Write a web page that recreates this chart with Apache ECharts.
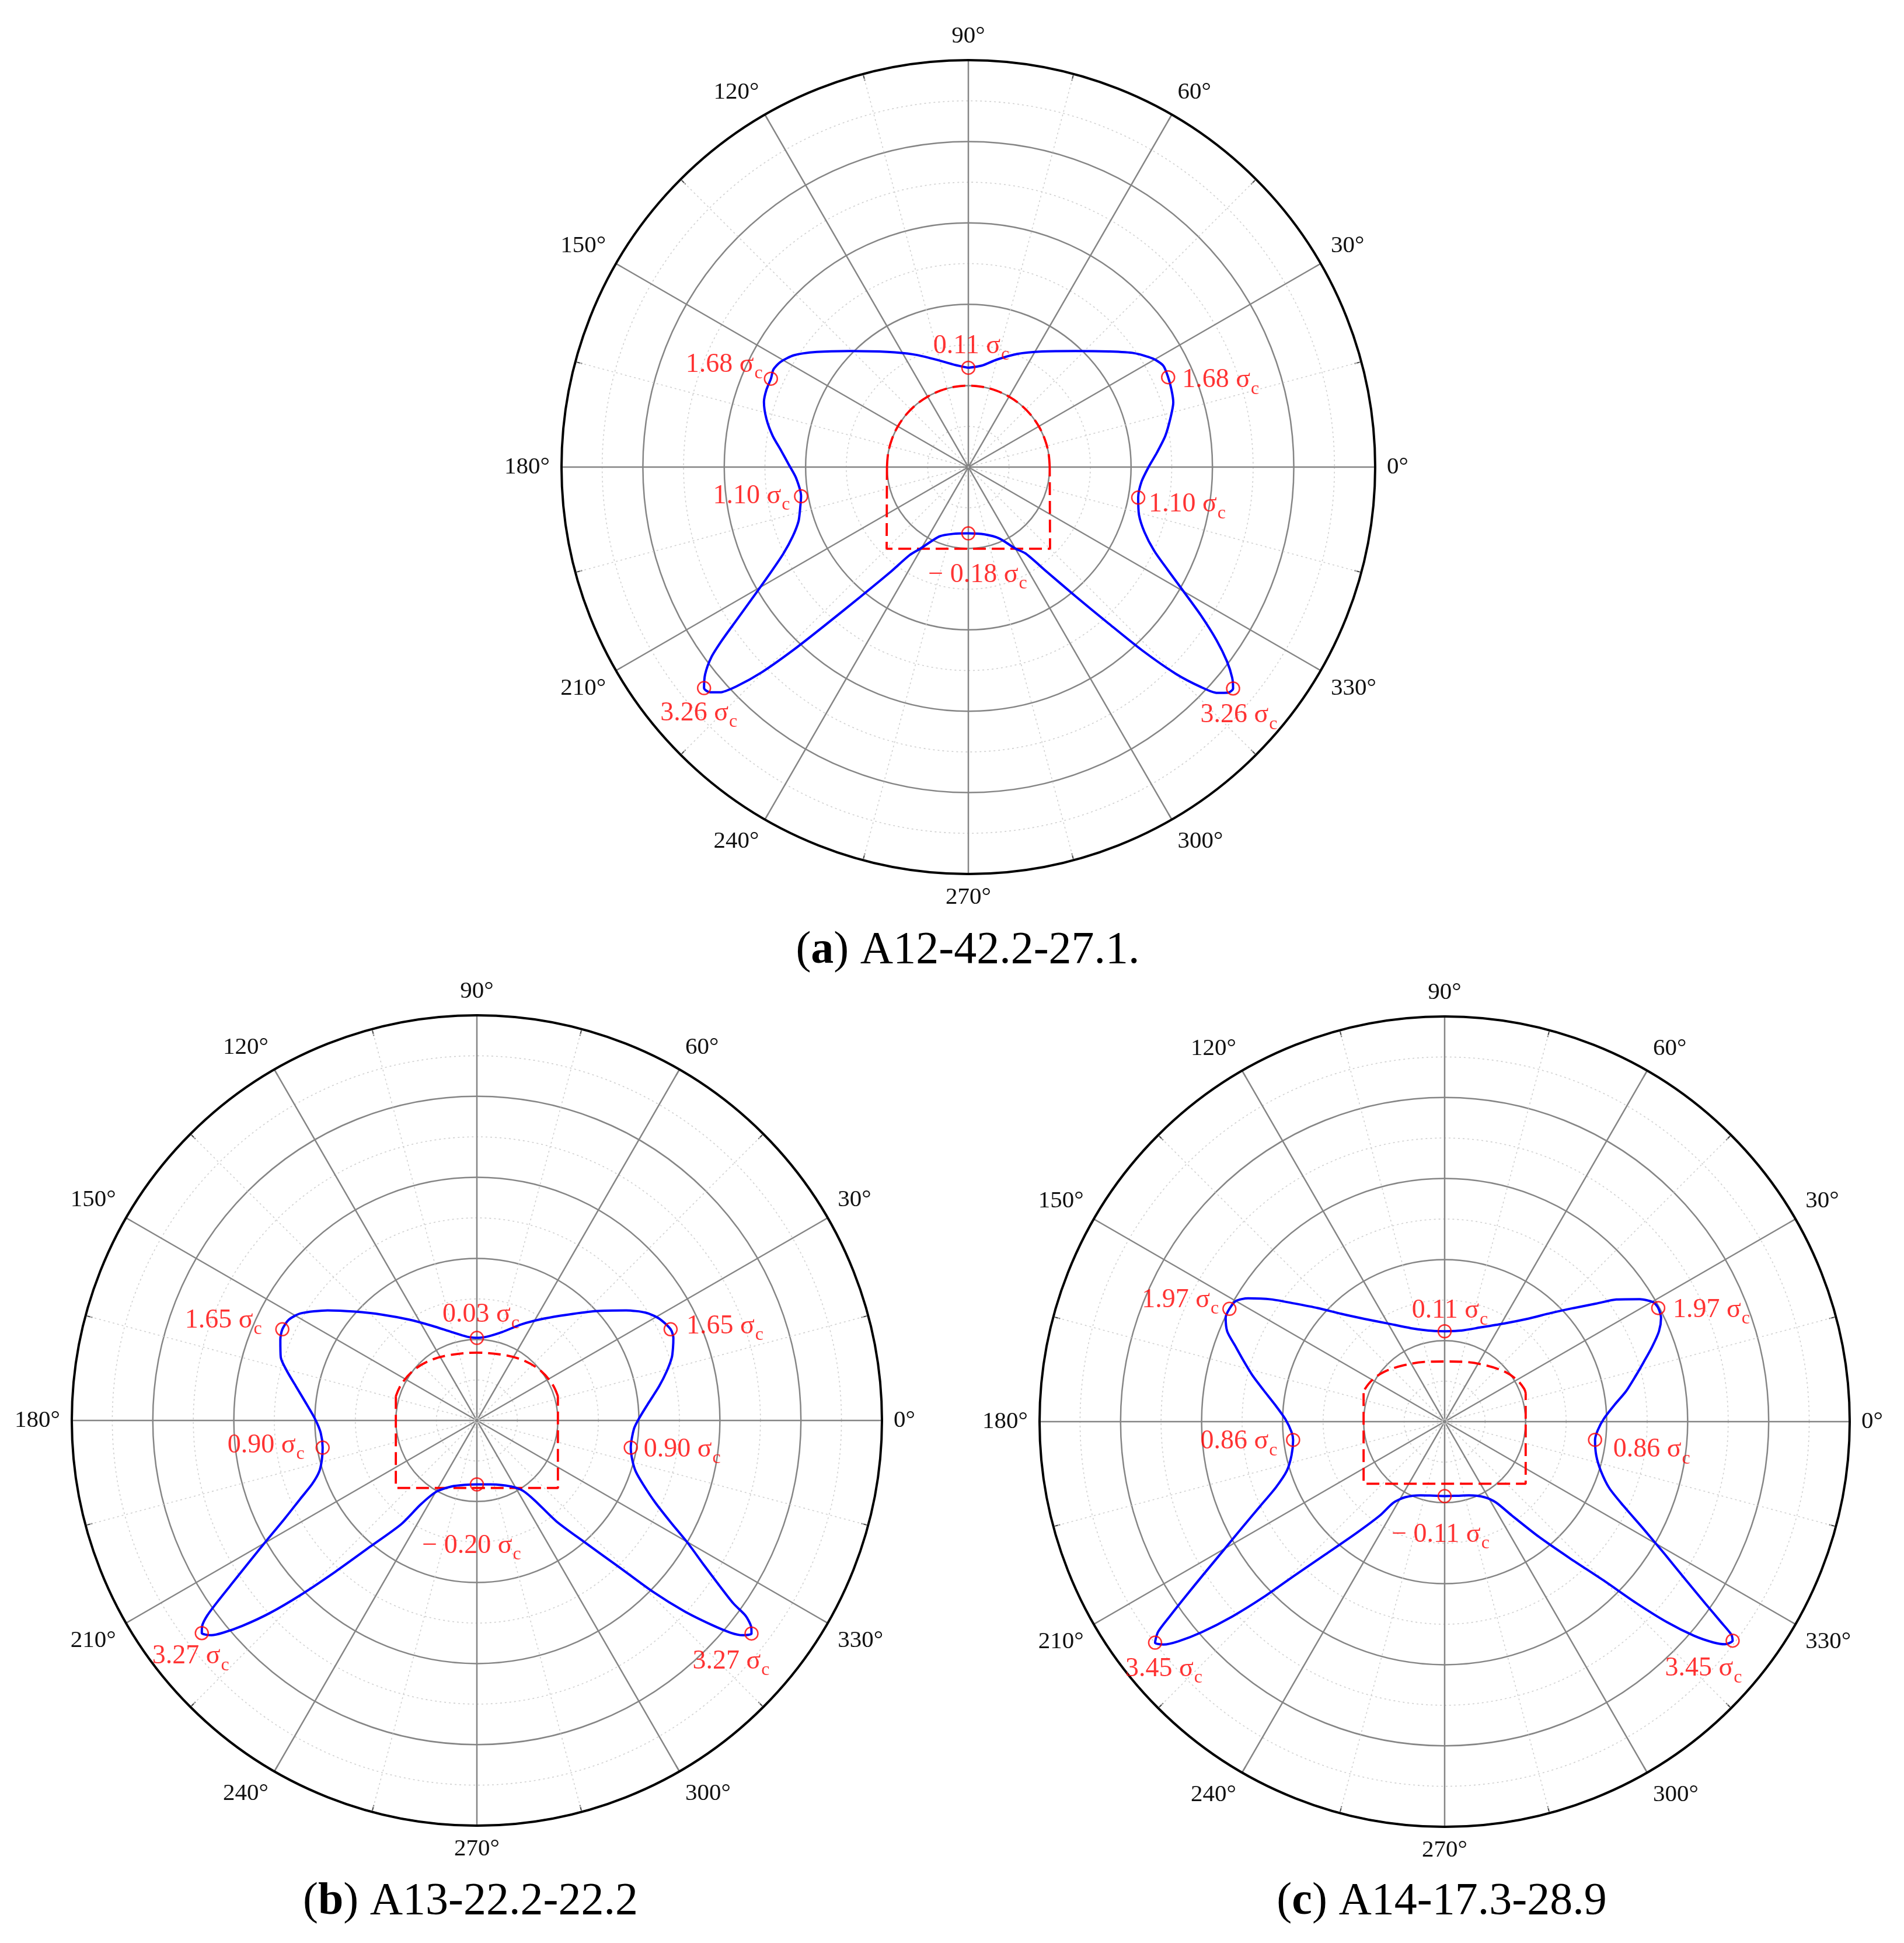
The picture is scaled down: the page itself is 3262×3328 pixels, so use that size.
<!DOCTYPE html>
<html>
<head>
<meta charset="utf-8">
<script src="https://cdn.jsdelivr.net/npm/echarts@6/dist/echarts.min.js"></script>
<style>
html,body{margin:0;padding:0;background:#ffffff;}
#chart{width:3262px;height:3328px;}
</style>
</head>
<body>
<div id="chart"></div>
<script>
// ---------------- DATA (radius in grid-ring units, angle in degrees) ----------------
const angleTicks = [0, 30, 60, 90, 120, 150, 180, 210, 240, 270, 300, 330];
const titles = ['(a) A12-42.2-27.1.', '(b) A13-22.2-22.2', '(c) A14-17.3-28.9'];

// (a) stress curve
const curveA_deg = [90, 82.5, 75.4, 66.65, 57.4, 47.25, 39.4, 34.5, 30.45, 27.5, 24.2, 20.8, 17.5, 13.9, 9.0, 4.4, 0, 355.2, 349.8, 344.3, 339.8, 335.8, 332.8, 329.9, 327.5, 325.1, 323.1, 321.4, 320.1, 319.0, 317.8, 316.6, 315.1, 313.5, 311.9, 309.7, 306.8, 303.5, 299.9, 293.5, 283.5, 270, 257.3, 247.5, 239.5, 236.3, 233.3, 230.2, 227.9, 226.3, 224.8, 223.4, 222.2, 221.1, 219.9, 218.2, 216.5, 215.1, 213.4, 211.1, 208.2, 205.05, 201.6, 197.7, 193.9, 189.9, 183.6, 179.3, 174.9, 170.9, 166.6, 162.3, 159.1, 155.9, 153.4, 150.75, 147.35, 142.8, 135.5, 125.0, 116.2, 107.8, 97.7, 90];
const curveA_r = [1.22, 1.257, 1.362, 1.514, 1.686, 1.942, 2.237, 2.471, 2.630, 2.700, 2.692, 2.671, 2.641, 2.562, 2.451, 2.325, 2.215, 2.136, 2.121, 2.179, 2.305, 2.502, 2.750, 3.065, 3.387, 3.720, 3.974, 4.149, 4.241, 4.227, 4.131, 3.932, 3.597, 3.108, 2.585, 2.065, 1.601, 1.273, 1.153, 0.957, 0.850, 0.815, 0.841, 0.921, 1.163, 1.30, 1.62, 2.08, 2.60, 3.10, 3.58, 3.92, 4.12, 4.21, 4.234, 4.116, 3.930, 3.699, 3.409, 3.085, 2.765, 2.508, 2.323, 2.191, 2.130, 2.087, 2.122, 2.205, 2.312, 2.436, 2.551, 2.637, 2.657, 2.658, 2.679, 2.645, 2.546, 2.339, 2.034, 1.727, 1.544, 1.395, 1.268, 1.22];
// (a) opening outline: arch and straight part
const archA_deg = [0, 10, 20, 30, 40, 50, 60, 70, 80, 90, 100, 110, 120, 130, 140, 150, 160, 170, 180];
const archA_r = [1, 1, 1, 1, 1, 1, 1, 1, 1, 1, 1, 1, 1, 1, 1, 1, 1, 1, 1];
const boxA_deg = [180, 225, 315, 360];
const boxA_r = [1, 1.42, 1.42, 1];
// (a) marked points
const markA_deg = [90, 24.2, 349.8, 320.1, 270, 219.9, 189.9, 155.9];
const markA_r = [1.22, 2.692, 2.121, 4.241, 0.815, 4.234, 2.087, 2.658];
const markA_val = [0.11, 1.68, 1.10, 3.26, -0.18, 3.26, 1.10, 1.68];

// (b) stress curve
const curveB_deg = [90, 83.4, 74.1, 65.1, 56.4, 49.3, 42.75, 36.4, 32.6, 29.2, 25.2, 22.8, 20.4, 17.95, 14.6, 10.6, 6.2, 1.1, 356.9, 350.0, 345.7, 342.15, 338.8, 335.3, 332.3, 329.8, 327.55, 325.8, 324.5, 324.0, 323.15, 322.2, 321.05, 320.1, 318.95, 317.4, 315.8, 314.1, 311.4, 308.25, 305.95, 303.4, 298.95, 291.3, 282.0, 270, 259.7, 249.1, 240.3, 236.2, 233.9, 229.8, 226.9, 224.7, 222.9, 221.2, 219.9, 218.95, 217.7, 216.8, 215.85, 214.8, 213.4, 211.75, 209.6, 207.0, 203.9, 201.1, 198.0, 194.3, 190.0, 184.5, 179.6, 174.4, 169.3, 165.4, 162.1, 157.7, 154.9, 151.8, 148.75, 143.6, 138.3, 131.9, 123.9, 115.2, 105.9, 96.6, 90];
const curveB_r = [1.019, 1.040, 1.134, 1.308, 1.511, 1.723, 1.987, 2.289, 2.470, 2.577, 2.643, 2.631, 2.583, 2.530, 2.423, 2.288, 2.141, 2.010, 1.941, 1.929, 1.980, 2.061, 2.207, 2.423, 2.701, 3.017, 3.317, 3.614, 3.890, 4.100, 4.228, 4.290, 4.215, 4.083, 3.839, 3.478, 3.035, 2.511, 1.990, 1.584, 1.223, 1.043, 0.940, 0.857, 0.807, 0.789, 0.807, 0.871, 1.013, 1.249, 1.582, 2.037, 2.556, 3.062, 3.494, 3.849, 4.083, 4.215, 4.291, 4.235, 4.102, 3.875, 3.581, 3.292, 2.972, 2.658, 2.382, 2.180, 2.047, 1.975, 1.933, 1.934, 1.995, 2.115, 2.273, 2.423, 2.544, 2.622, 2.652, 2.633, 2.546, 2.289, 2.019, 1.755, 1.499, 1.290, 1.134, 1.040, 1.019];
const archB_deg = [16.7, 25.5, 37.8, 50.75, 65.9, 90, 114.1, 129.25, 142.2, 154.5, 163.3];
const archB_r = [1.044, 1.034, 0.999, 0.945, 0.880, 0.837, 0.880, 0.945, 0.999, 1.034, 1.044];
const boxB_deg = [163.3, 219.8, 320.2, 16.7];
const boxB_r = [1.044, 1.302, 1.302, 1.044];
const markB_deg = [90, 25.2, 350.0, 322.2, 270, 217.7, 190.0, 154.9];
const markB_r = [1.019, 2.643, 1.929, 4.290, 0.789, 4.291, 1.933, 2.652];
const markB_val = [0.03, 1.65, 0.90, 3.27, -0.20, 3.27, 0.90, 1.65];

// (c) stress curve
const curveC_deg = [90, 79.6, 69.1, 58.85, 51.2, 45.7, 41.35, 37.8, 35.4, 32.1, 29.8, 28.0, 25.6, 22.85, 19.8, 16.6, 13.5, 9.5, 5.6, 1.1, 356.8, 353.1, 347.45, 342.5, 338.0, 334.8, 331.65, 328.95, 326.7, 325.1, 324.05, 323.4, 322.75, 321.55, 320.6, 319.35, 317.95, 316.55, 315.1, 312.5, 309.3, 305.6, 302.5, 297.85, 288.3, 279.8, 270, 261.0, 251.9, 242.4, 237.7, 235.4, 231.65, 228.1, 225.7, 224.1, 222.55, 220.9, 219.5, 218.4, 217.35, 216.25, 215.3, 213.95, 212.3, 210.2, 207.55, 204.55, 201.25, 197.3, 192.4, 186.9, 183.9, 179.3, 174.4, 170.15, 166.6, 163.1, 160.3, 157.45, 154.6, 152.35, 150.0, 147.9, 144.8, 141.8, 138.15, 133.85, 128.0, 120.1, 109.85, 100.1, 90];
const curveC_r = [1.115, 1.143, 1.245, 1.415, 1.627, 1.871, 2.122, 2.380, 2.601, 2.843, 2.966, 2.986, 2.962, 2.871, 2.721, 2.562, 2.426, 2.270, 2.106, 1.967, 1.893, 1.870, 1.917, 2.022, 2.193, 2.438, 2.790, 3.172, 3.566, 3.925, 4.214, 4.409, 4.466, 4.417, 4.293, 4.055, 3.693, 3.249, 2.791, 2.285, 1.836, 1.424, 1.185, 1.055, 0.958, 0.928, 0.919, 0.925, 0.956, 1.053, 1.183, 1.407, 1.751, 2.199, 2.653, 3.110, 3.552, 3.969, 4.262, 4.427, 4.496, 4.385, 4.157, 3.847, 3.514, 3.160, 2.812, 2.499, 2.233, 2.040, 1.935, 1.884, 1.894, 1.962, 2.101, 2.268, 2.434, 2.596, 2.739, 2.906, 2.992, 2.999, 2.977, 2.864, 2.617, 2.358, 2.101, 1.845, 1.609, 1.400, 1.226, 1.142, 1.115];
const archC_deg = [19.3, 22.5, 29.8, 39.2, 53.6, 71.3, 90, 108.7, 126.4, 140.8, 150.2, 157.5, 160.7];
const archC_r = [1.060, 1.062, 1.031, 0.969, 0.862, 0.778, 0.742, 0.778, 0.862, 0.969, 1.031, 1.062, 1.060];
const boxC_deg = [160.7, 217.45, 322.55, 19.3];
const boxC_r = [1.060, 1.260, 1.260, 1.060];
const markC_deg = [90, 28.0, 353.1, 322.75, 270, 217.35, 186.9, 152.35];
const markC_r = [1.115, 2.986, 1.870, 4.466, 0.919, 4.496, 1.884, 2.999];
const markC_val = [0.11, 1.97, 0.86, 3.45, -0.11, 3.45, 0.86, 1.97];

// ---------------- LAYOUT / STYLE ----------------
const FONT = "'Liberation Serif', 'Times New Roman', serif";
const panels = [
  {center: [1659, 800], radius: 697, titleX: 1658, titleY: 1590,
   curve: [curveA_r, curveA_deg], arch: [archA_r, archA_deg], box: [boxA_r, boxA_deg],
   mark: [markA_r, markA_deg], vals: markA_val,
   lab: [['center', 5, -37], ['left', 24, 5], ['left', 18, 12], ['center', 10, 46], ['center', 16, 71], ['center', -9, 43], ['right', -19, 0], ['right', -14, -24]]},
  {center: [817, 2433], radius: 694, titleX: 806, titleY: 3219,
   curve: [curveB_r, curveB_deg], arch: [archB_r, archB_deg], box: [boxB_r, boxB_deg],
   mark: [markB_r, markB_deg], vals: markB_val,
   lab: [['center', 7, -40], ['left', 27, -5], ['left', 22, 3], ['center', -35, 48], ['center', -9, 105], ['center', -19, 40], ['right', -31, -4], ['right', -35, -15]]},
  {center: [2475, 2435], radius: 694, titleX: 2470, titleY: 3219,
   curve: [curveC_r, curveC_deg], arch: [archC_r, archC_deg], box: [boxC_r, boxC_deg],
   mark: [markC_r, markC_deg], vals: markC_val,
   lab: [['center', 9, -35], ['left', 25, 3], ['left', 31, 17], ['center', -50, 48], ['center', -7, 66], ['center', 15, 45], ['right', -27, 3], ['right', -18, -15]]}
];

function zip(rs, ds) { const n = Math.min(rs.length, ds.length); const out = []; for (let i = 0; i < n; i++) out.push([rs[i], ds[i]]); return out; }
function fmtVal(v) { return (v < 0 ? '\u2212 ' : '') + Math.abs(v).toFixed(2); }

const gridGray = '#858585';
const minorGray = '#d0d0d0';

const option = {
  backgroundColor: '#ffffff',
  animation: false,
  title: panels.map((p, i) => ({
    text: titles[i].replace(/^\((.)\)/, '({b|$1})'),
    left: p.titleX, top: p.titleY, textAlign: 'center', padding: 0,
    textStyle: {fontFamily: FONT, fontSize: 78, fontWeight: 'normal', color: '#000',
      rich: {b: {fontFamily: FONT, fontSize: 78, fontWeight: 'bold', color: '#000'}}}
  })),
  polar: panels.map(p => ({center: p.center, radius: p.radius})),
  angleAxis: panels.map((p, i) => ({
    polarIndex: i, type: 'value', min: 0, max: 360, interval: 30, startAngle: 0, clockwise: false,
    axisLine: {show: true, lineStyle: {color: '#000', width: 4}},
    axisTick: {show: true, inside: true, length: 12, lineStyle: {color: '#444', width: 2}},
    minorTick: {show: true, splitNumber: 2, length: 12, lineStyle: {color: '#444', width: 2}},
    axisLabel: {show: true, margin: 20, fontFamily: FONT, fontSize: 41, color: '#111',
      formatter: v => (angleTicks.indexOf(v) >= 0 ? v + '\u00b0' : '')},
    splitLine: {show: true, lineStyle: {color: gridGray, width: 2.5}},
    minorSplitLine: {show: true, lineStyle: {color: minorGray, width: 1.6, type: [3, 5]}}
  })),
  radiusAxis: panels.map((p, i) => ({
    polarIndex: i, type: 'value', min: 0, max: 5, interval: 1,
    axisLine: {show: false}, axisTick: {show: false}, axisLabel: {show: false},
    minorTick: {show: false, splitNumber: 2},
    splitLine: {show: true, lineStyle: {color: [gridGray, gridGray, gridGray, gridGray, gridGray, '#000'], width: 2.5}},
    minorSplitLine: {show: true, lineStyle: {color: minorGray, width: 1.6, type: [3, 5]}}
  })),
  series: []
};

panels.forEach((p, i) => {
  const dashed = {color: '#ff0000', width: 3.8, type: [22, 10]};
  option.series.push({type: 'line', coordinateSystem: 'polar', polarIndex: i, data: zip(p.arch[0], p.arch[1]),
    smooth: 0.35, showSymbol: false, symbol: 'none', lineStyle: dashed, z: 3, silent: true});
  option.series.push({type: 'line', coordinateSystem: 'polar', polarIndex: i, data: zip(p.box[0], p.box[1]),
    smooth: false, showSymbol: false, symbol: 'none', lineStyle: dashed, z: 3, silent: true});
  option.series.push({type: 'line', coordinateSystem: 'polar', polarIndex: i, data: zip(p.curve[0], p.curve[1]),
    smooth: 0.25, showSymbol: false, symbol: 'none', lineStyle: {color: '#0000ff', width: 4}, z: 4, silent: true});
  const pts = zip(p.mark[0], p.mark[1]);
  option.series.push({type: 'scatter', coordinateSystem: 'polar', polarIndex: i,
    symbol: 'circle', symbolSize: 22, z: 5, silent: true,
    itemStyle: {color: 'rgba(0,0,0,0)', borderColor: '#ff0000', borderWidth: 2.5},
    label: {show: true, position: 'inside', verticalAlign: 'top',
      formatter: q => '{n|' + fmtVal(p.vals[q.dataIndex]) + ' \u03c3}{c|c}',
      rich: {
        n: {fontFamily: FONT, fontSize: 46, color: '#ff0000', verticalAlign: 'top'},
        c: {fontFamily: FONT, fontSize: 32, color: '#ff0000', verticalAlign: 'top', padding: [22, 0, 0, 1]}
      }},
    data: pts.map((v, k) => ({value: v, label: {align: p.lab[k][0], offset: [p.lab[k][1], p.lab[k][2] - 23]}}))
  });
});

const chart = echarts.init(document.getElementById('chart'), null, {renderer: 'canvas', width: 3262, height: 3328});
chart.setOption(option);
</script>
</body>
</html>
